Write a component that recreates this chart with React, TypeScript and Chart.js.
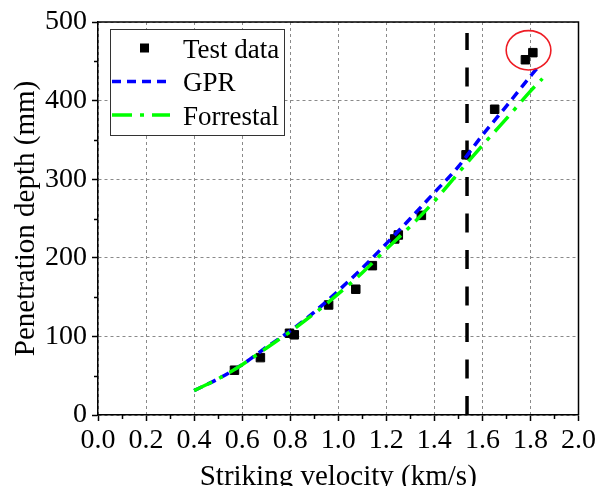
import { useEffect, useRef } from 'react';
import { Chart, registerables } from 'chart.js';

Chart.register(...registerables);

// ---- data ----
const testVelocity = [0.568, 0.676, 0.797, 0.817, 0.96, 1.073, 1.142, 1.235, 1.25, 1.346, 1.532, 1.651, 1.779, 1.81];
const testDepth = [57, 73, 104, 102, 140, 160, 190, 224, 229, 254, 331, 389, 452, 461];

const gprVelocity = [0.4, 0.5, 0.6, 0.7, 0.8, 0.9, 1.0, 1.1, 1.2, 1.3, 1.4, 1.5, 1.6, 1.7, 1.8, 1.83];
const gprDepth = [31, 46, 64, 86, 107, 131, 158, 187, 218, 250, 283, 316, 356, 393, 431, 442];

const forrestalVelocity = [0.4, 0.5, 0.6, 0.7, 0.8, 0.9, 1.0, 1.1, 1.2, 1.3, 1.4, 1.5, 1.6, 1.7, 1.8, 1.85];
const forrestalDepth = [31, 46, 64, 85, 106, 129, 154, 181, 211, 240, 272, 308, 343, 377, 412, 428];

const thresholdVelocity = 1.536;
const thresholdDepth = [0, 486];

// highlighted region (data coordinates)
const highlightVelocity = 1.792;
const highlightDepth = 464;
const highlightVelocityRadius = 0.093;
const highlightDepthRadius = 25;

const xTickValues = [0, 0.2, 0.4, 0.6, 0.8, 1.0, 1.2, 1.4, 1.6, 1.8, 2.0];
const yTickValues = [0, 100, 200, 300, 400, 500];

const seriesLabels = ['Test data', 'GPR', 'Forrestal'];

const FONT = '"Liberation Serif", "Times New Roman", Times, serif';

const isMajorX = (v: number) => xTickValues.some((t) => Math.abs(t - v) < 1e-6);
const isMajorY = (v: number) => yTickValues.some((t) => Math.abs(t - v) < 1e-6);

const framePlugin = {
  id: 'frame',
  afterDatasetsDraw(chart: any) {
    const { ctx } = chart;
    const xs = chart.scales.x;
    const ys = chart.scales.y;
    ctx.save();
    const cx = xs.getPixelForValue(highlightVelocity);
    const cy = ys.getPixelForValue(highlightDepth);
    const rx = Math.abs(xs.getPixelForValue(highlightVelocity + highlightVelocityRadius) - cx);
    const ry = Math.abs(ys.getPixelForValue(highlightDepth + highlightDepthRadius) - cy);
    ctx.beginPath();
    ctx.ellipse(cx, cy, rx, ry, 0, 0, Math.PI * 2);
    ctx.strokeStyle = '#ee1c24';
    ctx.lineWidth = 1.6;
    ctx.stroke();
    ctx.restore();
  },
  afterDraw(chart: any) {
    const { ctx, chartArea } = chart;
    const xs = chart.scales.x;
    const ys = chart.scales.y;
    ctx.save();
    ctx.strokeStyle = '#000';
    ctx.lineWidth = 1.5;
    ctx.beginPath();
    ctx.moveTo(chartArea.left, chartArea.top);
    ctx.lineTo(chartArea.right, chartArea.top);
    ctx.lineTo(chartArea.right, chartArea.bottom);
    ctx.stroke();
    // minor ticks
    ctx.beginPath();
    xs.ticks.forEach((t: any) => {
      if (!isMajorX(t.value)) {
        const px = Math.round(xs.getPixelForValue(t.value)) + 0.5;
        ctx.moveTo(px, chartArea.bottom);
        ctx.lineTo(px, chartArea.bottom + 4);
      }
    });
    ys.ticks.forEach((t: any) => {
      if (!isMajorY(t.value)) {
        const py = Math.round(ys.getPixelForValue(t.value)) + 0.5;
        ctx.moveTo(chartArea.left - 4, py);
        ctx.lineTo(chartArea.left, py);
      }
    });
    ctx.stroke();

    // legend
    const lx = chartArea.left + 12;
    const ly = chartArea.top + 7;
    const lw = 174;
    const lh = 106;
    ctx.fillStyle = '#fff';
    ctx.fillRect(lx, ly, lw, lh);
    ctx.strokeStyle = '#333';
    ctx.lineWidth = 1;
    ctx.strokeRect(lx + 0.5, ly + 0.5, lw, lh);

    const rows = [ly + 19, ly + 52.5, ly + 86];
    const ds = chart.data.datasets;
    const sampleL = lx + 2;
    const sampleR = lx + 60;
    ctx.fillStyle = ds[0].backgroundColor;
    ctx.fillRect(lx + 30, rows[0] - 4.5, 9, 9);
    [1, 2].forEach((i) => {
      ctx.beginPath();
      ctx.setLineDash(ds[i].borderDash);
      ctx.strokeStyle = ds[i].borderColor;
      ctx.lineWidth = ds[i].borderWidth;
      ctx.moveTo(sampleL, rows[i]);
      ctx.lineTo(sampleR, rows[i]);
      ctx.stroke();
    });
    ctx.setLineDash([]);
    ctx.fillStyle = '#000';
    ctx.font = `27px ${FONT}`;
    ctx.textAlign = 'left';
    ctx.textBaseline = 'alphabetic';
    seriesLabels.forEach((lab, i) => {
      ctx.fillText(lab, lx + 73, rows[i] + 9.5);
    });
    ctx.restore();
  },
};

export default function App() {
  const ref = useRef<HTMLCanvasElement>(null);
  useEffect(() => {
    const canvas = ref.current!;
    const chart = new Chart(canvas, {
      type: 'scatter',
      data: {
        datasets: [
          {
            label: seriesLabels[0],
            data: testVelocity.map((x, i) => ({ x, y: testDepth[i] })),
            pointStyle: 'rect',
            pointRadius: 6,
            pointBorderWidth: 1,
            backgroundColor: '#000',
            borderColor: '#000',
            showLine: false,
            order: 2,
          },
          {
            label: seriesLabels[1],
            data: gprVelocity.map((x, i) => ({ x, y: gprDepth[i] })),
            showLine: true,
            borderColor: '#0000ff',
            backgroundColor: '#0000ff',
            borderWidth: 3.5,
            borderDash: [9, 6],
            pointRadius: 0,
            cubicInterpolationMode: 'monotone',
            fill: false,
            order: 1,
          },
          {
            label: seriesLabels[2],
            data: forrestalVelocity.map((x, i) => ({ x, y: forrestalDepth[i] })),
            showLine: true,
            borderColor: '#00ff00',
            backgroundColor: '#00ff00',
            borderWidth: 3.5,
            borderDash: [20, 8, 4, 8],
            pointRadius: 0,
            cubicInterpolationMode: 'monotone',
            fill: false,
            order: 0,
          },
          {
            label: 'threshold',
            data: thresholdDepth.map((y) => ({ x: thresholdVelocity, y })),
            showLine: true,
            borderColor: '#000',
            borderWidth: 3.5,
            borderDash: [19, 17.5],
            pointRadius: 0,
            fill: false,
            order: 3,
          },
        ],
      },
      options: {
        responsive: false,
        animation: false,
        events: [],
        devicePixelRatio: 1,
        layout: { padding: { left: 0, top: 22, right: 20, bottom: 0 } },
        plugins: { legend: { display: false }, tooltip: { enabled: false } },
        scales: {
          x: {
            type: 'linear',
            min: 0,
            max: 2,
            afterFit: (s: any) => {
              s.height = 71;
            },
            ticks: {
              stepSize: 0.1,
              autoSkip: false,
              maxRotation: 0,
              padding: 3,
              color: '#000',
              font: { family: FONT, size: 28 },
              callback: (v: any) => (isMajorX(Number(v)) ? Number(v).toFixed(1) : ''),
            },
            grid: {
              color: (c: any) => (c.tick && isMajorX(c.tick.value) ? '#8a8a8a' : 'rgba(0,0,0,0)'),
              lineWidth: 1,
              tickLength: 6,
              tickWidth: 1.5,
              tickColor: (c: any) => (c.tick && isMajorX(c.tick.value) ? '#000' : 'rgba(0,0,0,0)'),
            },
            border: { display: true, color: '#000', width: 1.5, dash: [3, 3] },
            title: {
              display: true,
              text: 'Striking velocity (km/s)',
              color: '#000',
              font: { family: FONT, size: 29, lineHeight: 0.6 },
              padding: { top: 0, bottom: 0 },
            },
          },
          y: {
            type: 'linear',
            min: 0,
            max: 500,
            afterFit: (s: any) => {
              s.width = 98;
            },
            ticks: {
              stepSize: 50,
              autoSkip: false,
              padding: 5,
              color: '#000',
              font: { family: FONT, size: 28 },
              callback: (v: any) => (isMajorY(Number(v)) ? String(v) : ''),
            },
            grid: {
              color: (c: any) => (c.tick && isMajorY(c.tick.value) ? '#8a8a8a' : 'rgba(0,0,0,0)'),
              lineWidth: 1,
              tickLength: 6,
              tickWidth: 1.5,
              tickColor: (c: any) => (c.tick && isMajorY(c.tick.value) ? '#000' : 'rgba(0,0,0,0)'),
            },
            border: { display: true, color: '#000', width: 1.5, dash: [3, 3] },
            title: {
              display: true,
              text: 'Penetration depth (mm)',
              color: '#000',
              font: { family: FONT, size: 29, lineHeight: 1 },
              padding: { top: 11.5, bottom: 0 },
            },
          },
        },
      },
      plugins: [framePlugin],
    } as any);
    return () => chart.destroy();
  }, []);

  return (
    <div style={{ position: 'fixed', left: 0, top: 0, width: 599, height: 486, background: '#fff' }}>
      <canvas ref={ref} width={599} height={486} style={{ width: 599, height: 486, display: 'block' }} />
    </div>
  );
}
